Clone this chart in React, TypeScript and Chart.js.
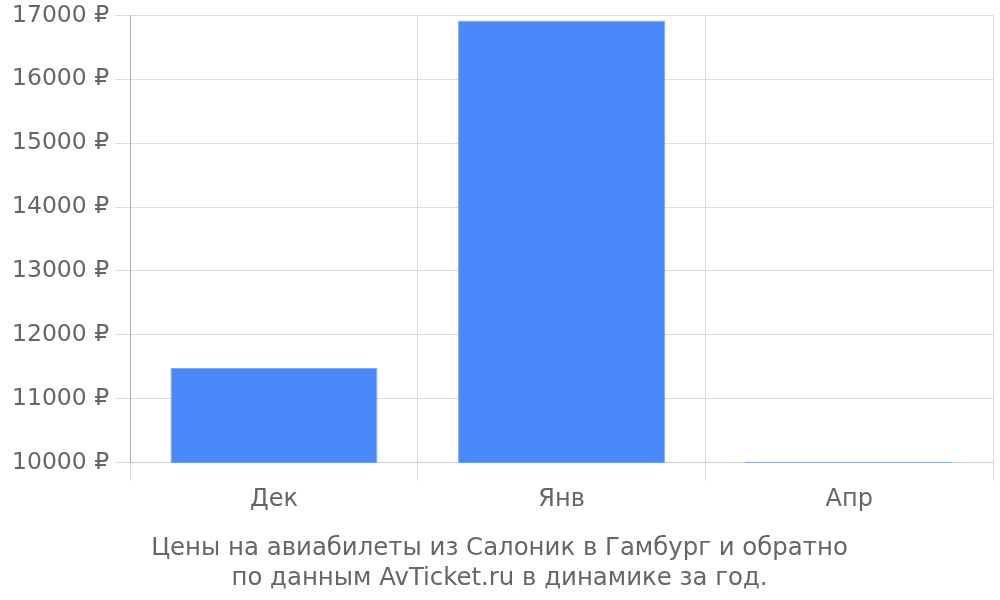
import React, { useEffect, useRef } from 'react';
import Chart from 'chart.js/auto';

const months = ['Дек', 'Янв', 'Апр'];
const prices = [11480, 16920, 10015];
const titleLines = [
    'Цены на авиабилеты из Салоник в Гамбург и обратно',
    'по данным AvTicket.ru в динамике за год.',
];

const App: React.FC = () => {
    const canvasRef = useRef<HTMLCanvasElement>(null);
    const chartRef = useRef<Chart>();

    useEffect(() => {
        const ctx = canvasRef.current?.getContext('2d');
        if (!ctx) return;
        if (chartRef.current) chartRef.current.destroy();

        const font = { family: '"DejaVu Sans", sans-serif', size: 24 };

        chartRef.current = new Chart(ctx, {
            type: 'bar',
            data: {
                labels: months,
                datasets: [{
                    data: prices,
                    backgroundColor: '#4b89fb',
                    borderColor: '#7aa8fb',
                    borderWidth: 1,
                    categoryPercentage: 0.8,
                    barPercentage: 0.9,
                }],
            },
            options: {
                animation: false,
                responsive: false,
                layout: { padding: { top: 0, right: 7, left: 6, bottom: 0 } },
                plugins: {
                    legend: { display: false },
                    tooltip: { enabled: false },
                    title: {
                        display: true,
                        position: 'bottom',
                        text: titleLines,
                        color: '#666',
                        font: { ...font, size: 24.4, weight: 'normal' },
                        lineHeight: 1.2,
                        padding: { top: 15, bottom: 7 },
                    },
                },
                scales: {
                    x: {
                        grid: { color: '#ddd', tickLength: 18 },
                        border: { color: '#ccc' },
                        ticks: { color: '#666', font, padding: 5 },
                    },
                    y: {
                        min: 10000,
                        max: 17000,
                        grid: { color: '#ddd', tickLength: 15 },
                        border: { color: '#aaa' },
                        ticks: {
                            stepSize: 1000,
                            color: '#666',
                            font: { ...font, size: 23.5, lineHeight: 0.8 },
                            padding: 6,
                            callback: (value: string | number) => `${value} ₽`,
                        },
                    },
                },
            },
        });

        return () => {
            if (chartRef.current) {
                chartRef.current.destroy();
                chartRef.current = undefined;
            }
        };
    }, []);

    return (
        <div style={{ position: 'absolute', left: 0, top: 0, width: 1000, height: 600 }}>
            <canvas ref={canvasRef} width={1000} height={600}></canvas>
        </div>
    );
};

export default App;
